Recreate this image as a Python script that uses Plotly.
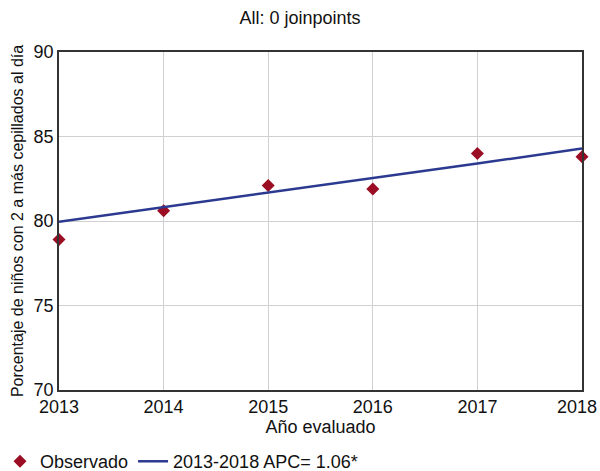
import plotly.graph_objects as go

years = [2013, 2014, 2015, 2016, 2017, 2018]
observed = [78.9, 80.6, 82.1, 81.9, 84.0, 83.8]
fitted = [79.96, 80.81, 81.66, 82.53, 83.40, 84.29]
x_ticks = [2013, 2014, 2015, 2016, 2017, 2018]
x_ticktext = ["2013", "2014", "2015", "2016", "2017", "2018\u00a0\u00a0"]
y_ticks = [70, 75, 80, 85, 90]

font_family = "Liberation Sans, Arial, sans-serif"

fig = go.Figure()
fig.add_trace(go.Scatter(
    x=years, y=observed, mode="markers", name="Observado",
    marker=dict(symbol="diamond", size=10, color="#9B0D23"),
    cliponaxis=False,
))
fig.add_trace(go.Scatter(
    x=years, y=fitted, mode="lines", name="2013-2018 APC= 1.06*",
    line=dict(color="#2B3990", width=2.5),
))

fig.update_layout(
    width=600, height=471,
    margin=dict(l=59, r=18, t=52, b=81, autoexpand=False),
    paper_bgcolor="white", plot_bgcolor="white",
    font=dict(family=font_family, size=18, color="#111111"),
    title=dict(text="All: 0 joinpoints", x=0.5, xanchor="center", y=0.962, yanchor="middle",
               font=dict(size=18, color="#111111")),
    showlegend=True,
    legend=dict(orientation="h", xref="container", yref="container",
                x=0.0, xanchor="left", y=0.02, yanchor="middle",
                font=dict(size=18), itemwidth=30, tracegroupgap=0),
)
fig.update_xaxes(
    range=[2013, 2018], tickvals=x_ticks, ticktext=x_ticktext,
    showgrid=True, gridcolor="#d0d0d0", gridwidth=1,
    showline=True, linecolor="#333333", linewidth=1.5, mirror=True,
    ticks="", zeroline=False, automargin=False, ticklabeloverflow="allow",
    title=dict(text="Año evaluado", standoff=2, font=dict(size=18)),
)
fig.update_yaxes(
    range=[70, 90], tickvals=y_ticks,
    showgrid=True, gridcolor="#d0d0d0", gridwidth=1,
    showline=True, linecolor="#333333", linewidth=1.5, mirror=True,
    ticks="", zeroline=False, automargin=False, ticklabeloverflow="allow",
    title=dict(text="Porcentaje de niños con 2 a más cepillados al día", standoff=6, font=dict(size=16)),
)

fig.write_html("out.html", config={"displayModeBar": False},
               post_script="document.body.style.margin='0px';")
